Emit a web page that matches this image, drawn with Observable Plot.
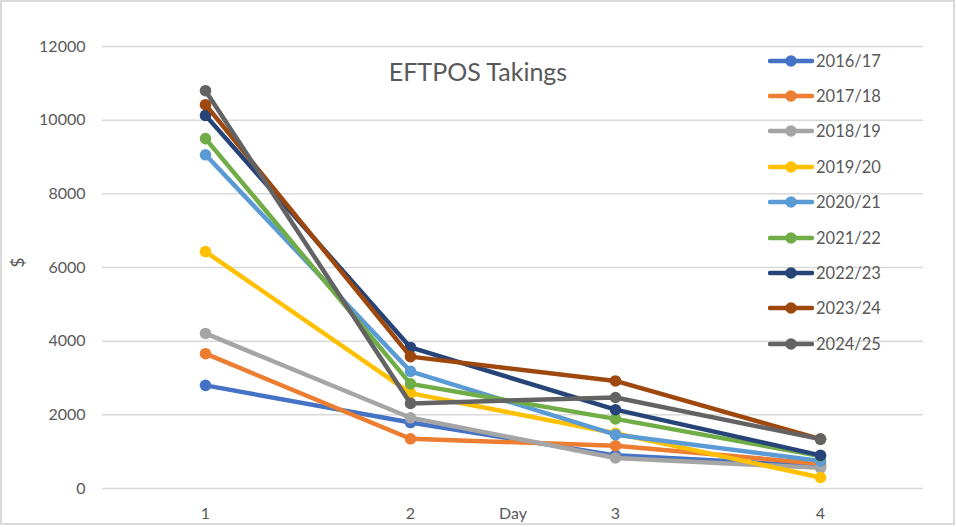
<!DOCTYPE html>
<html>
<head>
<meta charset="utf-8">
<script src="https://cdn.jsdelivr.net/npm/d3@7"></script>
<script src="https://cdn.jsdelivr.net/npm/@observablehq/plot@0.6"></script>
<style>
  html, body { margin: 0; padding: 0; background: #fff; }
  #wrap { position: relative; width: 956px; height: 527px; overflow: hidden; font-family: Lato, "Open Sans", sans-serif; color: #595959; }
  #border { position: absolute; left: 0; top: 0; width: 955px; height: 525px; border: 2px solid #d9d9d9; box-sizing: border-box; pointer-events: none; }
  #title { position: absolute; left: 0; top: 56px; width: 956px; text-align: center; font-size: 25px; line-height: 30px; }
  #legend { position: absolute; left: 768px; top: 43px; }
  .row { height: 35.4px; display: flex; align-items: center; font-size: 16.5px; }
  .row svg { margin-right: 2px; }
  #chart { position: absolute; left: 0; top: 0; }
</style>
</head>
<body>
<div id="wrap">
  <div id="chart"></div>
  <div id="title"></div>
  <div id="legend"></div>
  <div id="border"></div>
</div>
<script>
const titleText = "EFTPOS Takings";
const days = [1, 2, 3, 4];
const yTicks = [0, 2000, 4000, 6000, 8000, 10000, 12000];
const seasons = ["2016/17", "2017/18", "2018/19", "2019/20", "2020/21", "2021/22", "2022/23", "2023/24", "2024/25"];
const colors = ["#4472C4", "#ED7D31", "#A5A5A5", "#FFC000", "#5B9BD5", "#70AD47", "#264478", "#9E480E", "#636363"];

const s2016_17 = [2800, 1790, 900, 610];
const s2017_18 = [3660, 1350, 1160, 670];
const s2018_19 = [4210, 1920, 830, 560];
const s2019_20 = [6430, 2590, 1500, 300];
const s2020_21 = [9060, 3180, 1460, 750];
const s2021_22 = [9500, 2840, 1890, 880];
const s2022_23 = [10130, 3830, 2140, 900];
const s2023_24 = [10420, 3580, 2920, 1340];
const s2024_25 = [10800, 2310, 2470, 1340];

const seriesValues = [s2016_17, s2017_18, s2018_19, s2019_20, s2020_21, s2021_22, s2022_23, s2023_24, s2024_25];

const rows = seasons.map((s, i) => days.map((d, j) => ({season: s, day: d, value: seriesValues[i][j]})));

const seriesMarks = rows.flatMap(r => [
  Plot.line(r, {x: "day", y: "value", stroke: "season", strokeWidth: 4.5, strokeLinejoin: "round", strokeLinecap: "round"}),
  Plot.dot(r, {x: "day", y: "value", fill: "season", r: 5.8, stroke: "none"})
]);

const chart = Plot.plot({
  width: 956,
  height: 527,
  marginLeft: 102,
  marginRight: 33,
  marginTop: 46,
  marginBottom: 39,
  style: {fontFamily: "Lato, 'Open Sans', sans-serif", fontSize: "16px", color: "#595959", background: "transparent", overflow: "visible"},
  x: {type: "point", domain: days, padding: 0.5},
  y: {domain: [0, 12000]},
  color: {domain: seasons, range: colors},
  marks: [
    Plot.gridY(yTicks, {stroke: "#d9d9d9", strokeOpacity: 1, strokeWidth: 1.5}),
    Plot.axisY(yTicks, {tickSize: 0, tickPadding: 17, tickFormat: d3.format("d"), label: null, fontSize: 16}),
    Plot.axisX({tickSize: 0, tickPadding: 19, label: null, fontSize: 16}),
    Plot.text(["Day"], {frameAnchor: "bottom", lineAnchor: "middle", dy: 25, fontSize: 16, fill: "#595959"}),
    Plot.text(["$"], {frameAnchor: "left", lineAnchor: "middle", dx: -84, rotate: -90, fontSize: 17, fill: "#595959"}),
    ...seriesMarks
  ]
});
document.getElementById("chart").appendChild(chart);

document.getElementById("title").textContent = titleText;

const legend = document.getElementById("legend");
seasons.forEach((s, i) => {
  const row = document.createElement("div");
  row.className = "row";
  row.innerHTML = `<svg width="46" height="14"><line x1="2" y1="7" x2="44" y2="7" stroke="${colors[i]}" stroke-width="4.5" stroke-linecap="round"/><circle cx="23" cy="7" r="5.8" fill="${colors[i]}"/></svg><span>${s}</span>`;
  legend.appendChild(row);
});
</script>
</body>
</html>
